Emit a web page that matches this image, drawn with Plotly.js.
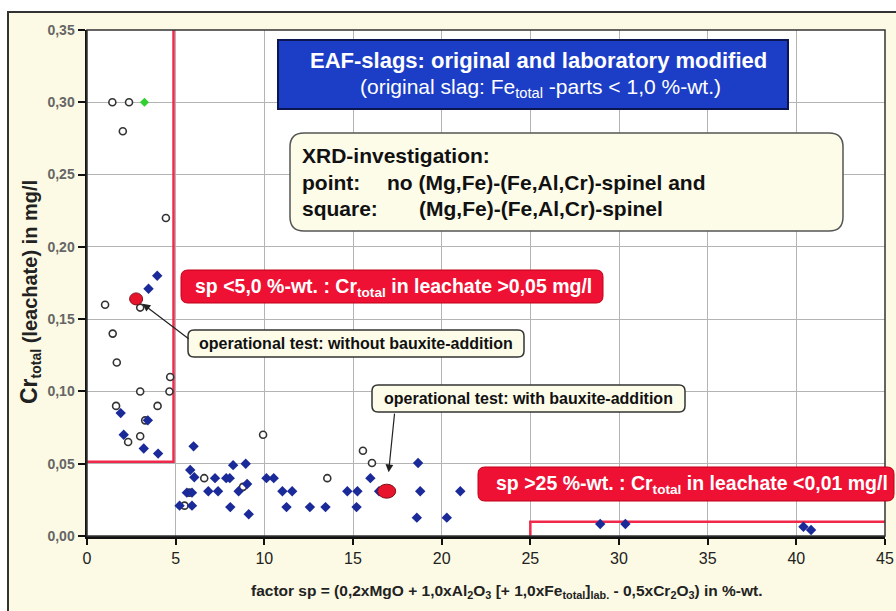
<!DOCTYPE html>
<html>
<head>
<meta charset="utf-8">
<script src="https://cdn.plot.ly/plotly-3.0.1.min.js"></script>
<style>
html,body{margin:0;padding:0;width:896px;height:611px;overflow:hidden;background:#ffffff;}
#frame{position:absolute;left:7px;top:11px;width:900px;height:620px;border-left:2px solid #333;border-top:2px solid #333;background:#fcfae4;}
#chart{position:absolute;left:0;top:0;width:896px;height:611px;}
</style>
</head>
<body>
<div id="frame"></div>
<div id="chart"></div>
<script>
// ---- data ----
// open circles: no (Mg,Fe)-(Fe,Al,Cr)-spinel
const circleX = [1.43, 2.37, 2.02, 4.45, 3.0, 1.02, 1.45, 1.68, 4.69, 3.0, 4.65, 1.64, 3.98, 3.28, 3.0, 2.32, 5.77, 5.5, 9.93, 6.61, 13.55, 8.8, 15.56, 16.07];
const circleY = [0.300, 0.300, 0.280, 0.220, 0.158, 0.160, 0.140, 0.120, 0.110, 0.100, 0.100, 0.090, 0.090, 0.080, 0.069, 0.065, 0.030, 0.021, 0.070, 0.040, 0.040, 0.034, 0.059, 0.0505];
// blue diamonds: (Mg,Fe)-(Fe,Al,Cr)-spinel
const diamondX = [3.96, 3.47, 1.9, 3.43, 2.07, 3.2, 4.01,
  6.01, 5.82, 6.05, 5.63, 5.92, 5.22, 5.92,
  8.24, 8.95, 7.22, 7.85, 8.05, 10.12, 10.53,
  9.03, 8.55, 6.84, 7.39, 11.02, 11.57, 14.68, 15.25,
  8.08, 11.25, 12.57, 13.45, 15.2, 9.12,
  18.67, 15.98, 16.47, 18.79, 21.05, 18.6, 20.29,
  28.94, 30.36, 40.4, 40.83];
const diamondY = [0.180, 0.171, 0.085, 0.080, 0.070, 0.0605, 0.057,
  0.062, 0.0457, 0.0406, 0.030, 0.030, 0.021, 0.021,
  0.049, 0.050, 0.040, 0.040, 0.040, 0.040, 0.040,
  0.036, 0.031, 0.031, 0.031, 0.031, 0.031, 0.031, 0.031,
  0.020, 0.020, 0.020, 0.020, 0.020, 0.015,
  0.0505, 0.040, 0.031, 0.031, 0.031, 0.0127, 0.0127,
  0.0083, 0.0083, 0.0064, 0.0042];
// green point
const greenX = [3.24];
const greenY = [0.300];
// operational tests (red ellipses): without / with bauxite-addition
const opX = [2.77, 16.9];
const opY = [0.164, 0.031];
// threshold lines
const limLowX = [4.88, 4.88, 0];
const limLowY = [0.35, 0.0514, 0.0514];
const limHighX = [25, 25, 45];
const limHighY = [0, 0.0099, 0.0099];
// axis ticks
const xTicks = [0, 5, 10, 15, 20, 25, 30, 35, 40, 45];
const yTicks = [0, 0.05, 0.10, 0.15, 0.20, 0.25, 0.30, 0.35];

// ---- geometry helpers (plot area in pixels) ----
const L = 87, R = 885, T = 30, B = 536;
const W = R - L, H = B - T;
const PX = px => (px - L) / W;
const PY = py => (B - py) / H;
function rr(x0, y0, x1, y1, r) {
  return `M${PX(x0 + r)},${PY(y0)} L${PX(x1 - r)},${PY(y0)} Q${PX(x1)},${PY(y0)} ${PX(x1)},${PY(y0 + r)} ` +
    `L${PX(x1)},${PY(y1 - r)} Q${PX(x1)},${PY(y1)} ${PX(x1 - r)},${PY(y1)} L${PX(x0 + r)},${PY(y1)} ` +
    `Q${PX(x0)},${PY(y1)} ${PX(x0)},${PY(y1 - r)} L${PX(x0)},${PY(y0 + r)} Q${PX(x0)},${PY(y0)} ${PX(x0 + r)},${PY(y0)} Z`;
}
const FONT = 'Liberation Sans, Arial, sans-serif';
const CREAM = '#fdfce9';

const traces = [
  {x: limLowX, y: limLowY, mode: 'lines', line: {color: '#f0284a', width: 2.5}, hoverinfo: 'none', showlegend: false},
  {x: limHighX, y: limHighY, mode: 'lines', line: {color: '#f0284a', width: 2.5}, hoverinfo: 'none', showlegend: false},
  {x: circleX, y: circleY, mode: 'markers', marker: {symbol: 'circle', size: 7, color: '#ffffff', line: {color: '#333333', width: 1.6}}, showlegend: false},
  {x: diamondX, y: diamondY, mode: 'markers', marker: {symbol: 'diamond', size: 8, color: '#1a2a98'}, showlegend: false},
  {x: greenX, y: greenY, mode: 'markers', marker: {symbol: 'diamond', size: 7, color: '#2fd02f'}, showlegend: false}
];

const shapes = [
  {type: 'rect', xref: 'paper', yref: 'paper', x0: 0, x1: 1, y0: 0, y1: 1, line: {color: '#333', width: 1.5}, layer: 'above'},
  // blue title box
  {type: 'path', xref: 'paper', yref: 'paper', path: rr(278, 40, 788, 109, 0), fillcolor: '#1c3ec6', line: {color: '#0b1550', width: 2}, layer: 'above'},
  // XRD box
  {type: 'path', xref: 'paper', yref: 'paper', path: rr(290, 133, 843, 231, 14), fillcolor: CREAM, line: {color: '#555', width: 1.5}, layer: 'above'},
  // red boxes
  {type: 'path', xref: 'paper', yref: 'paper', path: rr(181, 270, 603, 303, 7), fillcolor: '#ee1133', line: {color: '#c00018', width: 1}, layer: 'above'},
  {type: 'path', xref: 'paper', yref: 'paper', path: rr(478, 467, 894, 501, 7), fillcolor: '#ee1133', line: {color: '#c00018', width: 1}, layer: 'above'},
  // operational test boxes
  {type: 'path', xref: 'paper', yref: 'paper', path: rr(188, 330, 524, 357, 6), fillcolor: CREAM, line: {color: '#333', width: 1.5}, layer: 'above'},
  {type: 'path', xref: 'paper', yref: 'paper', path: rr(372, 385, 685, 412, 6), fillcolor: CREAM, line: {color: '#333', width: 1.5}, layer: 'above'}
];
// red ellipses at the operational test points
const ellW = [13, 18], ellH = [12, 14];
opX.forEach((v, i) => {
  shapes.push({type: 'circle', xref: 'x', yref: 'y', xsizemode: 'pixel', ysizemode: 'pixel',
    xanchor: v, yanchor: opY[i], x0: -ellW[i] / 2, x1: ellW[i] / 2, y0: -ellH[i] / 2, y1: ellH[i] / 2,
    fillcolor: '#e8142c', line: {color: '#80101a', width: 1}, layer: 'above'});
});

function txt(px, py, text, size, color, anchor, bold) {
  return {xref: 'paper', yref: 'paper', x: PX(px), y: PY(py), xanchor: anchor || 'center', yanchor: 'middle',
    showarrow: false, text: bold === false ? text : '<b>' + text + '</b>', font: {family: FONT, size: size, color: color}};
}
const annotations = [
  txt(538, 60, 'EAF-slags: original and laboratory modified', 22, '#ffffff'),
  txt(540, 88, '(original slag: Fe<sub>total</sub> -parts &lt; 1,0 %-wt.)', 21, '#ffffff', 'center', false),
  txt(300, 155, 'XRD-investigation:', 21, '#111', 'left'),
  txt(300, 182, 'point:', 21, '#111', 'left'),
  txt(385, 182, 'no (Mg,Fe)-(Fe,Al,Cr)-spinel and', 21, '#111', 'left'),
  txt(300, 209, 'square:', 21, '#111', 'left'),
  txt(417, 209, '(Mg,Fe)-(Fe,Al,Cr)-spinel', 21, '#111', 'left'),
  txt(393, 287, 'sp &lt;5,0 %-wt. : Cr<sub>total</sub> in leachate &gt;0,05 mg/l', 19.5, '#ffffff'),
  txt(692, 484, 'sp &gt;25 %-wt. : Cr<sub>total</sub> in leachate &lt;0,01 mg/l', 19.5, '#ffffff'),
  txt(356, 343.5, 'operational test: without bauxite-addition', 16, '#111'),
  txt(528, 398.5, 'operational test: with bauxite-addition', 16, '#111'),
  // arrows
  {xref: 'x', yref: 'y', x: opX[0], y: opY[0], ax: 54, ay: 41, text: '', showarrow: true,
    arrowhead: 2, arrowsize: 1.3, arrowwidth: 1.2, arrowcolor: '#222', standoff: 8},
  {xref: 'x', yref: 'y', x: opX[1], y: opY[1], ax: 8, ay: -79, text: '', showarrow: true,
    arrowhead: 2, arrowsize: 1.3, arrowwidth: 1.2, arrowcolor: '#222', standoff: 19},
  // axis titles
  Object.assign(txt(30, 292, '<span style="font-size:23px">Cr</span><sub>total</sub> (leachate) in mg/l', 20, '#222'), {textangle: -90}),
  txt(507, 591, 'factor sp = (0,2xMgO + 1,0xAl<sub>2</sub>O<sub>3</sub> [+ 1,0xFe<sub>total</sub>]<sub>lab.</sub> - 0,5xCr<sub>2</sub>O<sub>3</sub>) in %-wt.', 15.5, '#222')
];

const layout = {
  width: 896, height: 611,
  margin: {l: L, r: 896 - R, t: T, b: 611 - B, pad: 0},
  paper_bgcolor: 'rgba(0,0,0,0)',
  plot_bgcolor: '#ffffff',
  separators: ',.',
  showlegend: false,
  font: {family: FONT},
  xaxis: {range: [0, 45], tickvals: xTicks, ticktext: xTicks.map(String), ticks: 'outside', ticklen: 6, tickwidth: 2, tickcolor: '#111',
    showline: true, linecolor: '#111', linewidth: 2.5, showgrid: true, gridcolor: '#b4b4b4', gridwidth: 1, zeroline: false,
    tickfont: {family: FONT, size: 16, color: '#222'}, fixedrange: true},
  yaxis: {range: [0, 0.35], tickvals: yTicks, tickformat: '.2f', ticks: 'outside', ticklen: 7, tickwidth: 2, tickcolor: '#111',
    showline: true, linecolor: '#111', linewidth: 2.5, showgrid: true, gridcolor: '#b4b4b4', gridwidth: 1, zeroline: false,
    tickfont: {family: FONT, size: 14, color: '#666', weight: 'bold'}, fixedrange: true},
  shapes: shapes,
  annotations: annotations
};

Plotly.newPlot('chart', traces, layout, {staticPlot: true, displayModeBar: false});
</script>
</body>
</html>
